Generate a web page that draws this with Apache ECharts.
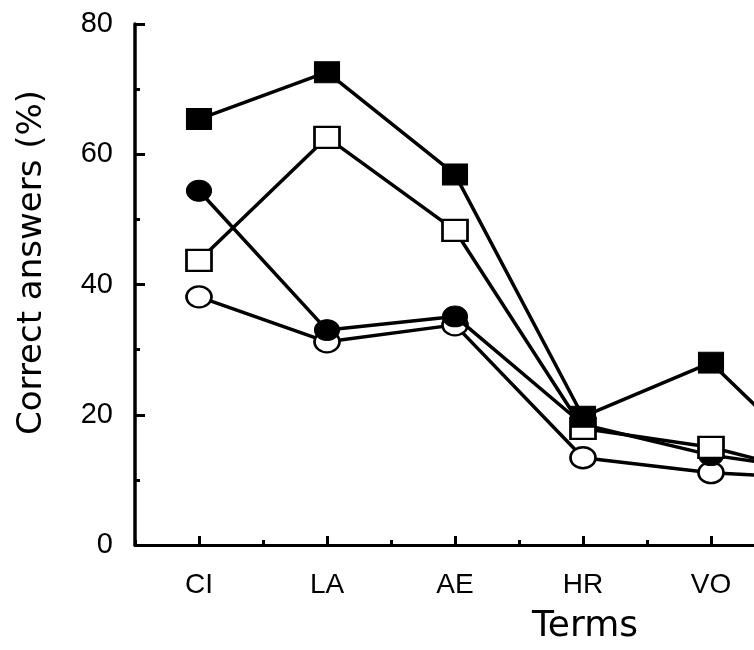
<!DOCTYPE html>
<html>
<head>
<meta charset="utf-8">
<script src="https://cdn.jsdelivr.net/npm/echarts@6/dist/echarts.min.js"></script>
<style>
html,body{margin:0;padding:0;background:#fff;}
#main{width:754px;height:650px;}
</style>
</head>
<body>
<div id="main"></div>
<script>
// Categories (6th term is beyond the visible crop)
const categories = ['CI', 'LA', 'AE', 'HR', 'VO', ''];
const yTicks = [0, 20, 40, 60, 80];

// Series values (% correct answers)
const filledSquare = [65.4, 72.6, 56.9, 19.7, 28.0, 9];
const openSquare   = [43.7, 62.6, 48.3, 17.9, 15.0, 10];
const filledCircle = [54.4, 33.0, 35.1, 18.5, 13.8, 11];
const openCircle   = [38.1, 31.2, 33.8, 13.4, 11.1, 10];

const chart = echarts.init(document.getElementById('main'), null, {renderer: 'canvas'});

function mkSeries(name, data, symbol, filled, z) {
  return {
    name: name,
    type: 'line',
    data: data,
    symbol: symbol,
    symbolSize: [25, 21],
    showAllSymbol: true,
    clip: false,
    z: z,
    lineStyle: {color: '#000', width: 3.5},
    itemStyle: filled ? {color: '#000', borderColor: '#000', borderWidth: 1}
                      : {color: '#fff', borderColor: '#000', borderWidth: 2.5},
    emphasis: {disabled: true}
  };
}

const option = {
  backgroundColor: '#fff',
  animation: false,
  grid: {
    left: 135, top: 24, bottom: 105,
    right: 754 - 135 - 128 * categories.length,
    containLabel: false,
    outerBoundsMode: 'none'
  },
  xAxis: [{
    type: 'category',
    data: categories,
    position: 'bottom',
    boundaryGap: true,
    axisLine: {show: true, onZero: false, lineStyle: {color: '#000', width: 3}},
    axisTick: {show: true, inside: true, alignWithLabel: true, interval: 0, length: 9, lineStyle: {color: '#000', width: 3}},
    axisLabel: {show: true, interval: 0, color: '#000', fontFamily: 'Liberation Sans', fontSize: 28, margin: 26},
    splitLine: {show: false},
    name: 'Terms',
    nameLocation: 'middle',
    nameGap: 64,
    nameTextStyle: {color: '#000', fontFamily: 'DejaVu Sans', fontSize: 36, padding: [0, 0, 0, 132]}
  }, {
    type: 'category',
    data: categories,
    position: 'bottom',
    boundaryGap: true,
    axisLine: {show: false, onZero: false},
    axisTick: {show: true, inside: true, alignWithLabel: false, interval: 0, length: 5, lineStyle: {color: '#000', width: 3}},
    axisLabel: {show: false},
    splitLine: {show: false}
  }],
  yAxis: {
    type: 'value',
    min: yTicks[0],
    max: yTicks[yTicks.length - 1],
    interval: 20,
    axisLine: {show: true, lineStyle: {color: '#000', width: 3.5}},
    axisTick: {show: true, inside: true, length: 10, lineStyle: {color: '#000', width: 3}},
    minorTick: {show: true, splitNumber: 2, length: 5, lineStyle: {color: '#000', width: 3}},
    axisLabel: {color: '#000', fontFamily: 'Liberation Sans', fontSize: 29, margin: 22},
    splitLine: {show: false},
    minorSplitLine: {show: false},
    name: 'Correct answers (%)',
    nameLocation: 'middle',
    nameGap: 86,
    nameRotate: 90,
    nameTextStyle: {color: '#000', fontFamily: 'DejaVu Sans', fontSize: 34, padding: [0, 0, 0, 44]}
  },
  series: [
    mkSeries('openCircle', openCircle, 'circle', false, 2),
    mkSeries('filledCircle', filledCircle, 'circle', true, 3),
    mkSeries('openSquare', openSquare, 'rect', false, 4),
    mkSeries('filledSquare', filledSquare, 'rect', true, 5)
  ]
};
chart.setOption(option);
</script>
</body>
</html>
